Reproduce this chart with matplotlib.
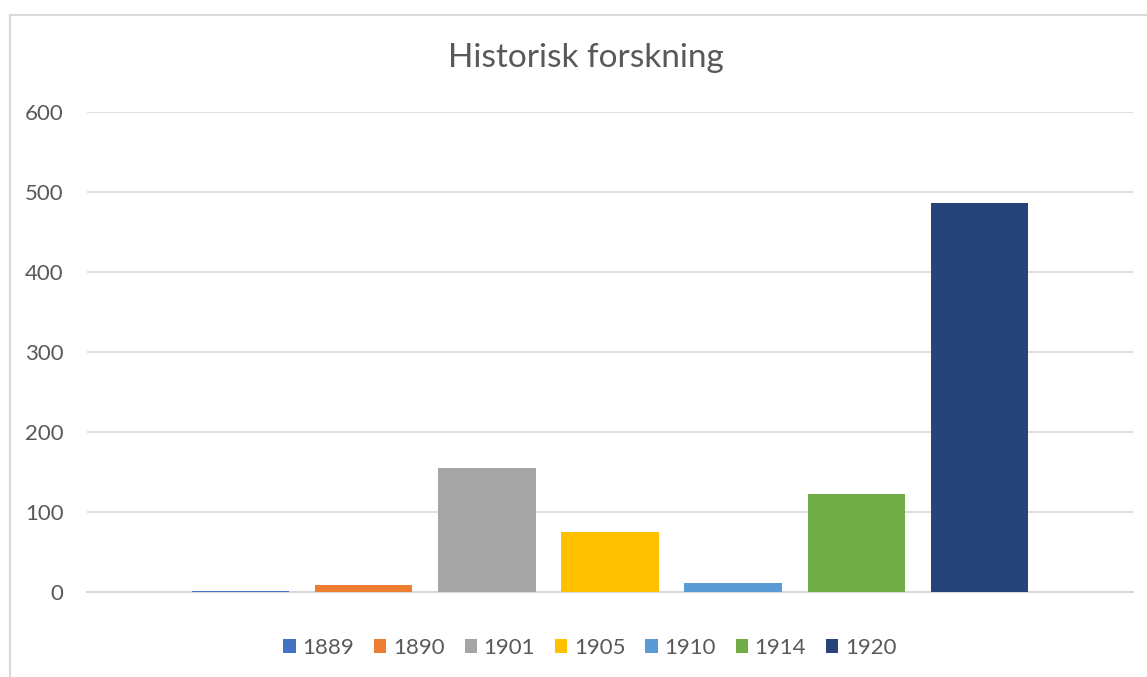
import matplotlib.pyplot as plt
from matplotlib.lines import Line2D

years = ["1889", "1890", "1901", "1905", "1910", "1914", "1920"]
counts = [1, 9, 155, 75, 11, 122, 486]
colors = ["#4472C4", "#ED7D31", "#A5A5A5", "#FFC000", "#5B9BD5", "#70AD47", "#264478"]

plt.rcParams["font.family"] = ["Lato", "DejaVu Sans"]
text_color = "#595959"

fig = plt.figure(figsize=(11.47, 6.77), dpi=100)
ax = fig.add_axes([87 / 1147, 1 - 592 / 677, (1133 - 87) / 1147, (592 - 112) / 677])

for i, (yr, val, col) in enumerate(zip(years, counts, colors)):
    ax.bar(i, val, width=0.79, color=col, label=yr, zorder=3)

ax.set_xlim(-1.25, 7.25)
ax.set_ylim(0, 600)
ax.set_yticks(range(0, 601, 100))
ax.set_xticks([])
ax.grid(axis="y", color="#D9D9D9", linewidth=1.2, zorder=0)
for s in ["top", "right", "left"]:
    ax.spines[s].set_visible(False)
ax.spines["bottom"].set_color("#D9D9D9")
ax.spines["bottom"].set_linewidth(1.5)
ax.tick_params(axis="y", length=0, labelsize=16, labelcolor=text_color, pad=17)

fig.text(586 / 1147, 1 - 58 / 677, "Historisk forskning", ha="center", va="center",
         fontsize=24, color=text_color)

handles, labels = ax.get_legend_handles_labels()
fig.legend(handles, labels, loc="center", bbox_to_anchor=(590 / 1147, 1 - 648 / 677),
           ncol=7, frameon=False, fontsize=16, labelcolor=text_color,
           handlelength=0.55, handleheight=0.55, handletextpad=0.3, columnspacing=0.9)

# chart area border
fig.add_artist(Line2D([9.5 / 1147, 9.5 / 1147], [0, 1 - 14.5 / 677], color="#D9D9D9",
                      linewidth=1.5, transform=fig.transFigure))
fig.add_artist(Line2D([9.5 / 1147, 1], [1 - 14.5 / 677, 1 - 14.5 / 677], color="#D9D9D9",
                      linewidth=1.5, transform=fig.transFigure))

fig.savefig("out.png", dpi=100)
